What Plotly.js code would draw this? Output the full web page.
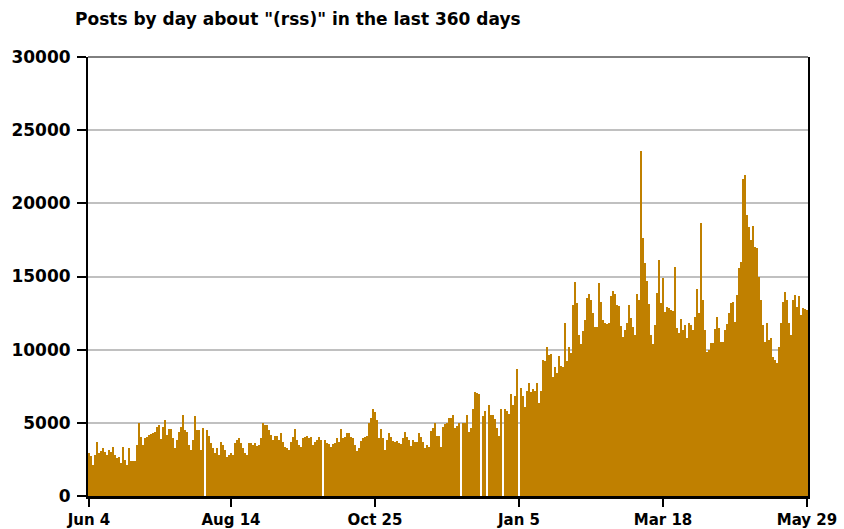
<!DOCTYPE html>
<html>
<head>
<meta charset="utf-8">
<script src="https://cdn.plot.ly/plotly-3.0.1.min.js"></script>
<style>
html,body{margin:0;padding:0;background:#fff;}
#chart{width:844px;height:529px;}
</style>
</head>
<body>
<div id="chart"></div>
<script>
// First day of the series (one bar per day, 360 days)
const startDay = '2006-06-04';

// Posts per day (0 = missing day)
const posts = [
  2920,2730,2120,2800,3710,2960,3100,3260,3030,2800,
  3140,3030,3370,2800,2570,2640,2280,3370,2460,2120,
  3260,2390,2390,2390,3490,5010,4060,3490,3940,4060,
  4170,4210,4280,4400,4740,4850,3870,4740,5190,4170,
  4560,4560,3940,3260,3830,4400,4740,5540,4510,4400,
  3490,3140,3830,5470,4510,4510,3140,4620,0,4510,
  4100,3600,3260,2960,3260,2800,3710,3490,3140,2690,
  2800,2960,2800,3600,3830,3940,3600,3260,2920,2800,
  3600,3600,3490,3600,3420,3490,3940,4970,4850,4850,
  4510,4170,3830,4100,4100,3830,4280,3710,3370,3260,
  3140,3710,4060,4560,3830,3490,3370,3940,4060,4100,
  3940,4060,3490,3710,3830,4060,3830,0,3830,3650,
  3550,3370,3550,3600,3940,3710,4560,3940,4060,4330,
  4330,4060,3940,3490,3080,3260,3780,3940,4060,4100,
  5010,5310,5920,5760,5190,3940,4560,3940,3140,3830,
  4330,4060,3760,3710,3760,3600,3550,3940,4400,4060,
  3830,3420,3830,3710,3710,4330,4060,3710,3260,3490,
  3370,4470,4620,5010,4100,4100,3370,4740,4920,5010,
  5310,5310,5540,4620,4780,4970,0,5010,5010,5540,
  4400,4620,5920,7090,7060,6950,0,5470,5810,0,
  6220,5540,5540,5240,4620,4100,5950,0,5920,5810,
  5600,6950,6220,6830,8680,0,7360,6830,6100,7200,
  7700,7130,7290,7180,7700,6380,7180,9290,9230,10160,
  9640,9700,8160,8840,8380,9570,8880,8840,11850,9200,
  10200,9800,13050,14650,13170,11000,10400,11300,12030,13510,
  13810,13400,12480,11530,11570,14530,13280,12030,11850,11730,
  11800,13670,14030,13810,13050,12990,11620,10890,11340,11850,
  13050,12140,11570,11000,13810,13400,23580,17610,15900,14690,
  13120,11000,10400,11690,13900,16130,13210,14880,12600,12940,
  12830,12710,12670,15670,11460,11160,12070,11340,11690,10780,
  11800,11690,11340,12210,14120,12480,18680,13400,11340,9860,
  9980,10480,10480,11390,12210,11460,10550,10550,11340,11750,
  12530,13170,13280,11910,13740,15560,16000,21640,21940,19200,
  18410,17500,18450,16990,16930,14990,13400,11690,10550,11800,
  10660,10780,9520,9300,9100,10200,11800,13280,13960,13400,
  11800,11000,13400,13740,12940,13670,12370,12830,12760,12710
];

// Tick positions and labels on the time axis
const tickDates = ['2006-06-04','2006-08-14','2006-10-25','2007-01-05','2007-03-18','2007-05-29'];
const tickLabels = ['Jun 4','Aug 14','Oct 25','Jan 5','Mar 18','May 29'];

// Day categories (one date per value)
const DAY = 86400000;
const t0 = Date.parse(startDay + 'T00:00:00Z');
const days = posts.map((_, i) => new Date(t0 + i * DAY).toISOString().slice(0, 10));

const yTickFont = {family: 'DejaVu Sans', size: 17, color: '#000', weight: 'bold'};
const xTickFont = {family: 'DejaVu Sans', size: 15, color: '#000', weight: 'bold'};

const trace = {
  type: 'bar',
  x: days,
  y: posts,
  width: DAY,
  marker: {color: '#c08000', line: {width: 0}},
  hoverinfo: 'x+y'
};

const rangeStart = new Date(t0 - DAY / 2).toISOString();
const rangeEnd = new Date(t0 + (posts.length - 0.5) * DAY).toISOString();

const layout = {
  width: 844,
  height: 529,
  margin: {l: 88, r: 36, t: 57, b: 33},
  paper_bgcolor: '#fff',
  plot_bgcolor: '#fff',
  bargap: 0,
  showlegend: false,
  title: {
    text: 'Posts by day about "(rss)" in the last 360 days',
    font: {family: 'DejaVu Sans', size: 17, color: '#000', weight: 'bold'},
    x: 75 / 844, xref: 'container', xanchor: 'left',
    y: 1 - 13 / 529, yref: 'container', yanchor: 'top'
  },
  xaxis: {
    type: 'date',
    range: [rangeStart, rangeEnd],
    tickmode: 'array',
    tickvals: tickDates,
    ticktext: tickLabels,
    ticks: 'outside',
    ticklen: 8,
    tickwidth: 2,
    tickcolor: '#000',
    showline: true,
    linecolor: '#000',
    linewidth: 3,
    showgrid: false,
    zeroline: false,
    tickfont: xTickFont,
    fixedrange: true
  },
  yaxis: {
    range: [0, 30000],
    dtick: 5000,
    tick0: 0,
    tickformat: 'd',
    ticks: 'outside',
    ticklen: 9,
    tickwidth: 2,
    tickcolor: '#000',
    ticklabelstandoff: 3,
    showline: true,
    mirror: true,
    linecolor: '#000',
    linewidth: 2,
    showgrid: true,
    gridcolor: '#c0c0c0',
    gridwidth: 2,
    zeroline: false,
    tickfont: yTickFont,
    fixedrange: true
  },
  shapes: [{
    type: 'line', xref: 'paper', yref: 'paper',
    x0: 0, x1: 1, y0: 1, y1: 1,
    line: {color: '#000', width: 1},
    layer: 'above'
  }]
};

Plotly.newPlot('chart', [trace], layout, {displayModeBar: false, staticPlot: true});
</script>
</body>
</html>
